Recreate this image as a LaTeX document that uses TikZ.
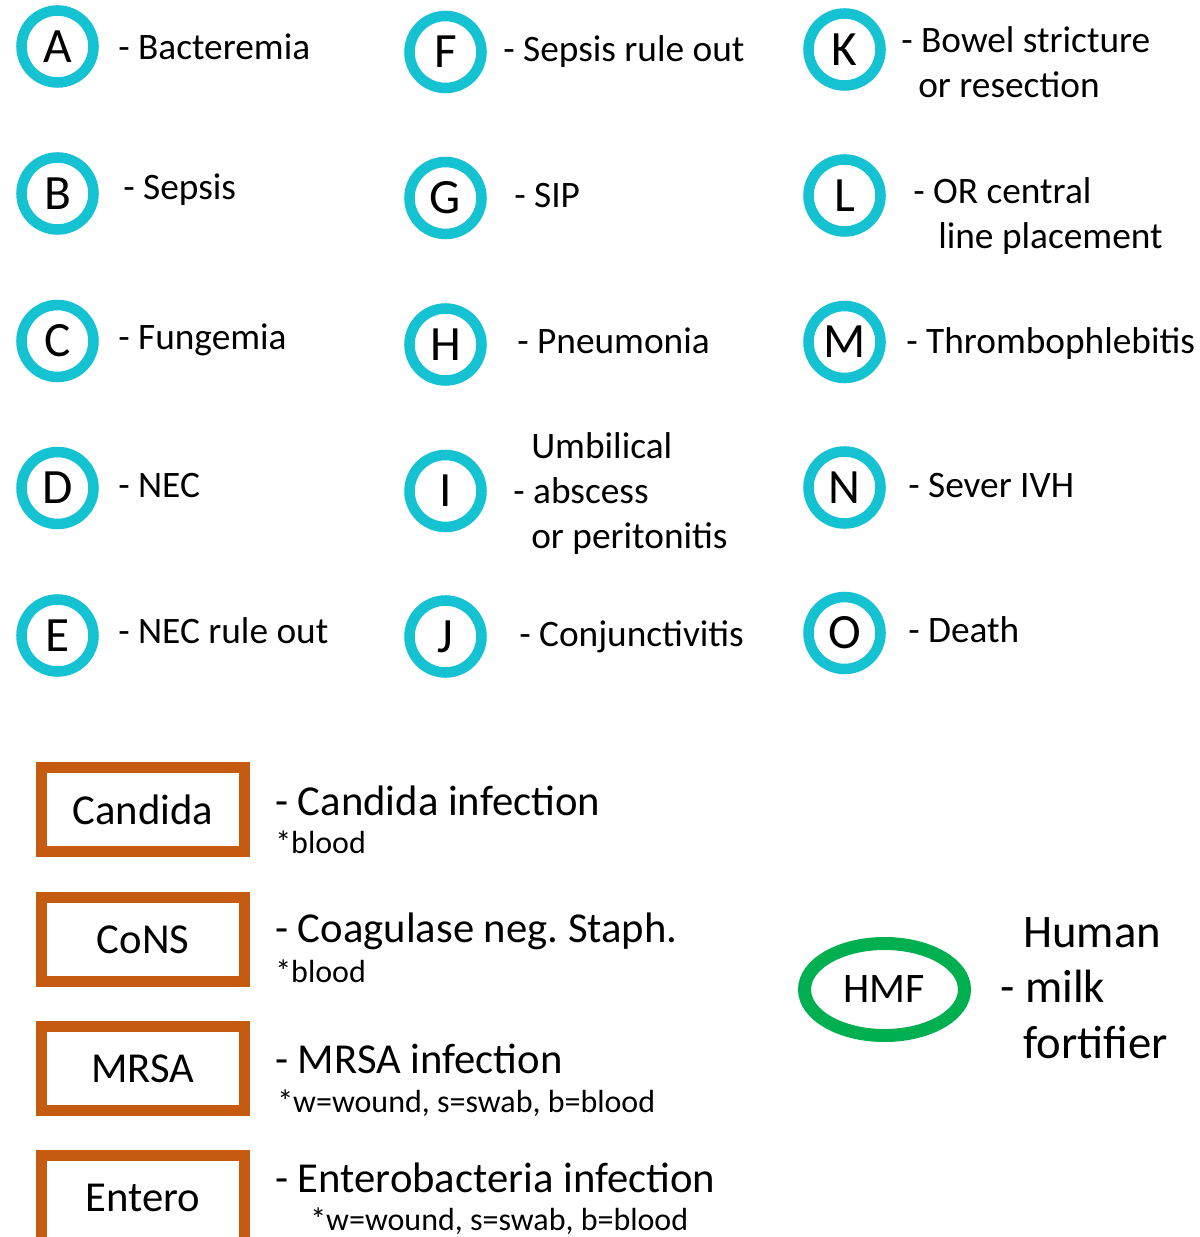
\documentclass[tikz,border=0pt]{standalone}
\usepackage{fontspec}
\setmainfont{Carlito}
\usetikzlibrary{shapes.geometric}
\definecolor{ringcyan}{RGB}{20,194,210}
\definecolor{boxorange}{RGB}{197,90,17}
\definecolor{hmfgreen}{RGB}{0,176,80}
\frenchspacing
\tikzset{
  code/.style={circle, draw=ringcyan, line width=7.9pt, minimum size=54pt, inner sep=0pt, font=\fontsize{37}{44}\selectfont},
  lbl/.style={anchor=base west, inner sep=0pt, font=\fontsize{28}{34}\selectfont},
  orgbox/.style={rectangle, draw=boxorange, line width=8.6pt, minimum width=152pt, minimum height=63pt, inner sep=0pt, font=\fontsize{32}{38}\selectfont},
  orglbl/.style={anchor=base west, inner sep=0pt, font=\fontsize{32}{38}\selectfont},
  note/.style={anchor=base west, inner sep=0pt, font=\fontsize{24}{29}\selectfont},
  hmfring/.style={ellipse, draw=hmfgreen, line width=9.75pt, minimum width=120pt, minimum height=69pt, inner sep=0pt, font=\fontsize{31.5}{38}\selectfont},
  hmflbl/.style={anchor=base west, inner sep=0pt, font=\fontsize{35}{42}\selectfont}
}

\begin{document}
\begin{tikzpicture}[x=0.75pt,y=0.75pt,yscale=-1,xscale=1]
\useasboundingbox (0,0) rectangle (1199,1237);
%Shape: Circle column 1
\node [code] (a) at (57.5,46.5) {A};
\node [code] (b) at (57.5,193.5) {B};
\node [code] (c) at (57.5,341) {C};
\node [code] (d) at (57.5,488) {D};
\node [code] (e) at (57.5,635.5) {E};
%Shape: Circle column 2
\node [code] (f) at (445.5,52) {F};
\node [code] (g) at (445.5,198) {G};
\node [code] (h) at (445.5,344.5) {H};
\node [code] (i) at (445.5,491) {I};
\node [code] (j) at (445.5,636.5) {J};
%Shape: Circle column 3
\node [code] (k) at (844.5,49.5) {K};
\node [code] (l) at (844.5,195.5) {L};
\node [code] (m) at (844.5,342) {M};
\node [code] (n) at (844.5,487.5) {N};
\node [code] (o) at (844.5,633) {O};
% Text Node
\node [lbl] (a-txt) at (118,60) {- Bacteremia};
\node [lbl] (b-txt) at (123,200) {- Sepsis};
\node [lbl] (c-txt) at (118,349) {- Fungemia};
\node [lbl] (d-txt) at (118,497) {- NEC};
\node [lbl] (e-txt) at (118,643) {- NEC rule out};
% Text Node
\node [lbl] (f-txt) at (503,62) {- Sepsis rule out};
\node [lbl] (g-txt) at (514,208) {- SIP};
\node [lbl] (h-txt) at (517,353) {- Pneumonia};
\node [lbl] (i-txt1) at (531,458) {Umbilical};
\node [lbl] (i-txt2) at (513,503) {- abscess};
\node [lbl] (i-txt3) at (531,548) {or peritonitis};
\node [lbl] (j-txt) at (519,646) {- Conjunctivitis};
% Text Node
\node [lbl] (k-txt1) at (901,53) {- Bowel stricture};
\node [lbl] (k-txt2) at (918,98) {or resection};
\node [lbl] (l-txt1) at (913,204) {- OR central};
\node [lbl] (l-txt2) at (938,249) {line placement};
\node [lbl] (m-txt) at (906,353) {- Thrombophlebitis};
\node [lbl] (n-txt) at (908,497) {- Sever IVH};
\node [lbl] (o-txt) at (908,642) {- Death};
%Shape: Rectangle
\node [orgbox] (candida) at (143,809.5) {Candida};
\node [orgbox] (cons) at (143,939.5) {CoNS};
\node [orgbox] (mrsa) at (143,1068.3) {MRSA};
\node [orgbox, minimum height=72pt, text depth=9.4pt] (entero) at (143,1203.75) {Entero};
% Text Node
\node [orglbl] (candida-txt) at (275,815) {- Candida infection};
\node [note] (candida-note) at (275,853) {*blood};
\node [orglbl] (cons-txt) at (275,942) {- Coagulase neg. Staph.};
\node [note] (cons-note) at (275,982) {*blood};
\node [orglbl] (mrsa-txt) at (275,1073) {- MRSA infection};
\node [note] (mrsa-note) at (277,1112) {*w=wound, s=swab, b=blood};
\node [orglbl] (entero-txt) at (275,1192) {- Enterobacteria infection};
\node [note] (entero-note) at (310,1230) {*w=wound, s=swab, b=blood};
%Shape: Ellipse
\node [hmfring] (hmf) at (884.5,989.5) {HMF};
% Text Node
\node [hmflbl] (hmf-txt1) at (1023,947) {Human};
\node [hmflbl] (hmf-txt2) at (1000,1002) {- milk};
\node [hmflbl] (hmf-txt3) at (1023,1058) {fortifier};
\end{tikzpicture}
\end{document}
